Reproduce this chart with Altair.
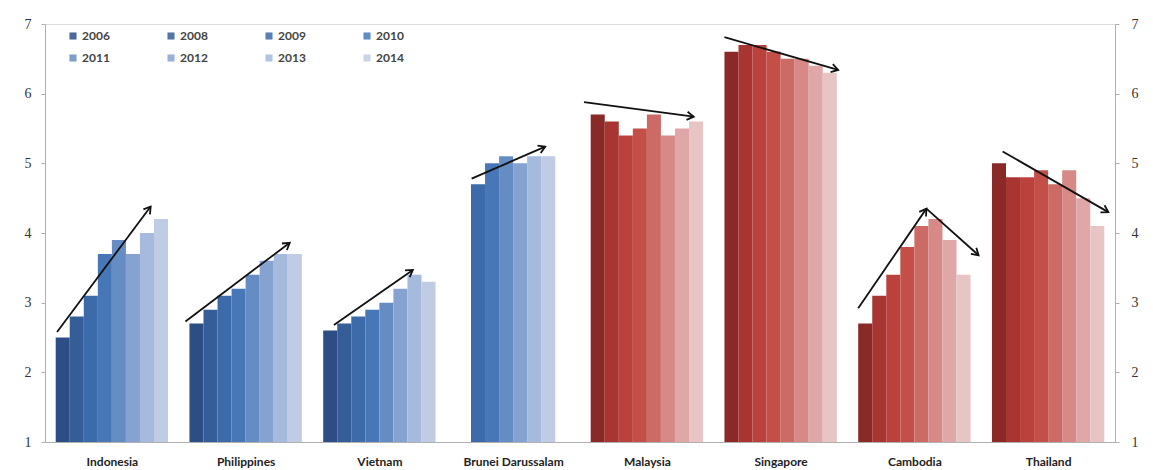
import json
import math
import altair as alt
import pandas as pd

countries = ["Indonesia", "Philippines", "Vietnam", "Brunei Darussalam",
             "Malaysia", "Singapore", "Cambodia", "Thailand"]
groups = ["B", "B", "B", "B", "R", "R", "R", "R"]
years = ["2006", "2008", "2009", "2010", "2011", "2012", "2013", "2014"]
years_brunei = ["2009", "2010", "2011", "2012", "2013", "2014"]

indonesia = [2.5, 2.8, 3.1, 3.7, 3.9, 3.7, 4.0, 4.2]
philippines = [2.7, 2.9, 3.1, 3.2, 3.4, 3.6, 3.7, 3.7]
vietnam = [2.6, 2.7, 2.8, 2.9, 3.0, 3.2, 3.4, 3.3]
brunei = [4.7, 5.0, 5.1, 5.0, 5.1, 5.1]
malaysia = [5.7, 5.6, 5.4, 5.5, 5.7, 5.4, 5.5, 5.6]
singapore = [6.6, 6.7, 6.7, 6.6, 6.5, 6.5, 6.4, 6.3]
cambodia = [2.7, 3.1, 3.4, 3.8, 4.1, 4.2, 3.9, 3.4]
thailand = [5.0, 4.8, 4.8, 4.9, 4.7, 4.9, 4.5, 4.1]

series = [indonesia, philippines, vietnam, brunei, malaysia, singapore, cambodia, thailand]
series_years = [years, years, years, years_brunei, years, years, years, years]

# trend arrows: country index, start offset, start value, end offset, end value
arrow_country = [0, 1, 2, 3, 4, 5, 6, 6, 7]
arrow_x0 = [-0.41, -0.45, -0.34, -0.31, -0.47, -0.42, -0.42, 0.09, -0.34]
arrow_y0 = [2.58, 2.73, 2.68, 4.78, 5.88, 6.81, 2.92, 4.35, 5.17]
arrow_x1 = [0.29, 0.33, 0.25, 0.24, 0.35, 0.43, 0.09, 0.48, 0.45]
arrow_y1 = [4.38, 3.86, 3.47, 5.24, 5.67, 6.34, 4.35, 3.68, 4.30]

blue_colors = ["#2d4e84", "#355e98", "#3d6aa8", "#4777b6", "#668cc4",
               "#86a2d0", "#a5badc", "#c0cce3"]
red_colors = ["#8a2a28", "#a83531", "#bb423c", "#c44f49", "#cc6a66",
              "#d68987", "#dfa7a7", "#e8c5c5"]

W, H = 1070, 418
BAR_W = 0.105

rows = []
for i, (c, g, vals, yrs) in enumerate(zip(countries, groups, series, series_years)):
    n = len(vals)
    for k, (yv, v) in enumerate(zip(yrs, vals)):
        x0 = i + (k - n / 2) * BAR_W
        rows.append({"country": c, "year": yv, "key": g + yv, "value": v,
                     "x0": x0, "x1": x0 + BAR_W})
bars_df = pd.DataFrame(rows)

px_x = W / 8.0
px_y = H / 6.0
arows = []
for ci, a, b, c2, d in zip(arrow_country, arrow_x0, arrow_y0, arrow_x1, arrow_y1):
    dx = (c2 - a) * px_x
    dy = -(d - b) * px_y
    ang = math.degrees(math.atan2(dx, -dy)) % 360
    arows.append({"xa": ci + a, "ya": b, "xb": ci + c2, "yb": d, "angle": ang})
arrow_df = pd.DataFrame(arows)

color_domain = ["B" + y for y in years] + ["R" + y for y in years]
color_range = blue_colors + red_colors

xscale = alt.Scale(domain=[-0.5, 7.5], nice=False, zero=False)
yscale = alt.Scale(domain=[1, 7], nice=False, zero=False)

label_expr = json.dumps(countries) + "[datum.value]"

xaxis = alt.Axis(values=list(range(8)), labelExpr=label_expr, title=None,
                 ticks=False, grid=False, domainColor="#b0b0b0",
                 labelFont="Lato", labelFontSize=12,
                 labelFontWeight="bold", labelColor="#222222",
                 labelPadding=14)

bars = alt.Chart(bars_df).mark_bar(opacity=1, strokeWidth=0).encode(
    x=alt.X("x0:Q", scale=xscale, axis=xaxis, title=None),
    x2="x1:Q",
    y=alt.Y("value:Q", scale=yscale,
            axis=alt.Axis(orient="left", values=[1, 2, 3, 4, 5, 6, 7], title=None,
                          grid=False, tickSize=4, tickColor="#b0b0b0",
                          domainColor="#b0b0b0", labelFont="Liberation Serif",
                          labelFontSize=14, labelColor="#333333", labelPadding=10)),
    y2=alt.datum(1),
    color=alt.Color("key:N", scale=alt.Scale(domain=color_domain, range=color_range),
                    legend=alt.Legend(values=["B" + y for y in years],
                                      labelExpr="substring(datum.label, 1)",
                                      title=None, orient="none", legendX=22, legendY=6,
                                      direction="horizontal",
                                      columns=4, columnPadding=55, rowPadding=10,
                                      symbolType="square", symbolSize=50,
                                      symbolStrokeWidth=0, symbolOpacity=0.85,
                                      labelFont="Lato", labelFontSize=12,
                                      labelFontWeight="bold", labelColor="#444444",
                                      labelOffset=3)),
)

lines = alt.Chart(arrow_df).mark_rule(color="#111111", strokeWidth=1.8).encode(
    x=alt.X("xa:Q", scale=xscale, axis=xaxis, title=None),
    x2="xb:Q",
    y=alt.Y("ya:Q", scale=yscale,
            axis=alt.Axis(orient="right", values=[1, 2, 3, 4, 5, 6, 7], title=None,
                          grid=False, tickSize=4, tickColor="#b0b0b0",
                          domainColor="#b0b0b0", labelFont="Liberation Serif",
                          labelFontSize=14, labelColor="#333333", labelPadding=12)),
    y2="yb:Q",
)

heads = alt.Chart(arrow_df).mark_point(
    shape="M-0.55,0.9L0,0L0.55,0.9", filled=False, color="#111111",
    strokeWidth=1.8, size=220, opacity=1
).encode(
    x=alt.X("xb:Q", scale=xscale, axis=xaxis, title=None),
    y=alt.Y("yb:Q", scale=yscale, axis=None),
    angle=alt.Angle("angle:Q", scale=None),
)

chart = alt.layer(bars, lines, heads).resolve_axis(y="independent").properties(
    width=W, height=H,
    autosize=alt.AutoSizeParams(type="none"),
    padding={"left": 45, "top": 24, "right": 38, "bottom": 28},
).configure_view(stroke=None).configure(background="white")

chart.save("out.html", embed_options={"renderer": "svg", "actions": False})
